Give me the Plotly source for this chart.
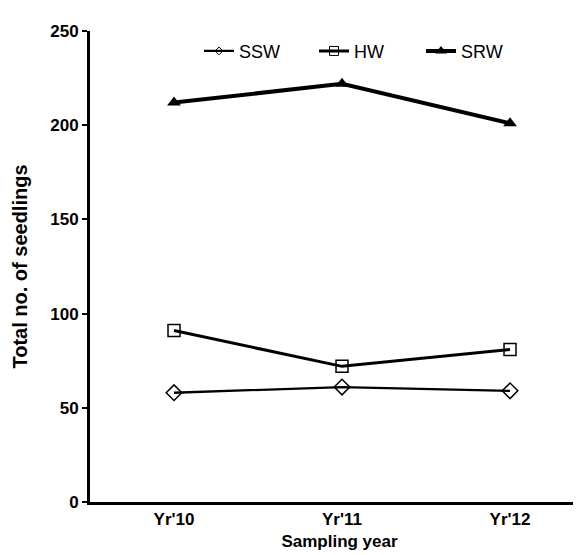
import plotly.graph_objects as go

years = ["Yr'10", "Yr'11", "Yr'12"]
ssw = [58, 61, 59]
hw = [91, 72, 81]
srw = [212, 222, 201]

series = [
    ("SSW", ssw, "legend", 2.3, "diamond-open", 12, 6),
    ("HW", hw, "legend2", 3, "square-open", 12, 9),
    ("SRW", srw, "legend3", 4, "triangle-up", 12, 10),
]

fig = go.Figure()
for name, vals, leg, lw, sym, ms, lms in series:
    mline = dict(width=1.5) if sym.endswith("open") else dict(width=0)
    # data trace
    fig.add_trace(go.Scatter(x=years, y=vals, name=name, mode="lines+markers", showlegend=False,
                             line=dict(color="black", width=lw),
                             marker=dict(symbol=sym, size=ms, color="black", line=mline)))
    # legend entry (smaller key marker, as in the original)
    fig.add_trace(go.Scatter(x=[years[0]], y=[None], name=name, mode="lines+markers", legend=leg,
                             line=dict(color="black", width=lw),
                             marker=dict(symbol=sym, size=lms, color="black",
                                         line=dict(width=1) if sym.endswith("open") else dict(width=0))))

L, W = 82, 499
def lx(px):
    return (px - L) / W

leg_common = dict(orientation="h", y=0.957, xanchor="left", yanchor="middle",
                  font=dict(size=18, family="Liberation Sans, Arial, sans-serif"),
                  bgcolor="rgba(0,0,0,0)", itemwidth=30)

fig.update_layout(
    width=581, height=555,
    margin=dict(l=L, r=0, t=23, b=61),
    paper_bgcolor="white", plot_bgcolor="white",
    font=dict(family="Liberation Sans, Arial, sans-serif", color="black"),
    showlegend=True,
    legend=dict(x=lx(191), **leg_common),
    legend2=dict(x=lx(306), **leg_common),
    legend3=dict(x=lx(413), **leg_common),
    xaxis=dict(type="category", range=[-0.5, 2.47], showline=True, linecolor="black",
               linewidth=3, ticks="", showgrid=False, zeroline=False,
               tickfont=dict(size=17, weight="bold"),
               title=dict(text="Sampling year", font=dict(size=17, weight="bold"), standoff=7)),
    yaxis=dict(range=[0, 250], showline=True, linecolor="black", linewidth=3,
               ticks="outside", ticklen=5, tickwidth=2, tickcolor="black",
               tickvals=[0, 50, 100, 150, 200, 250], showgrid=False, zeroline=False,
               tickfont=dict(size=17, weight="bold"),
               title=dict(text="Total no. of seedlings", font=dict(size=20, weight="bold"), standoff=18)),
)

fig.write_html("out.html")
